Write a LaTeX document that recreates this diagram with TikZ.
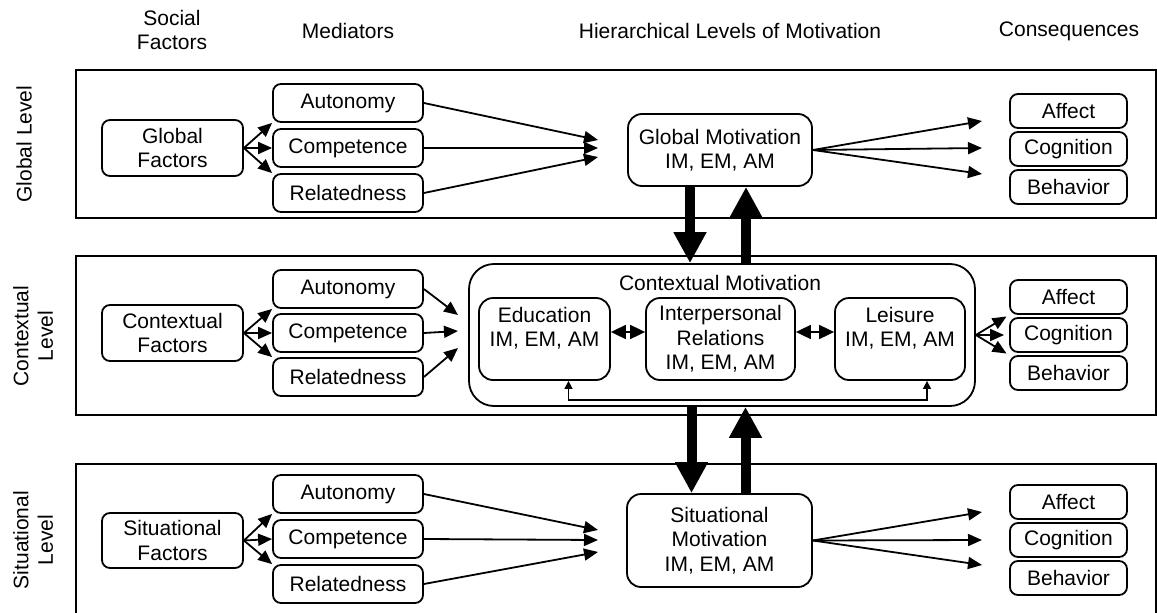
\documentclass[tikz,border=0pt]{standalone}
\usepackage{fontspec}
\setmainfont{Liberation Sans}
\usetikzlibrary{arrows.meta}
\begin{document}
\begin{tikzpicture}[x=1pt,y=-1pt,
  every node/.style={font=\fontsize{21}{24.5}\selectfont},
  panel/.style={draw, line width=1.8pt, inner sep=0pt, minimum width=1080pt},
  box/.style={draw, fill=white, line width=1.8pt, rounded corners=8pt, inner sep=0pt, align=center},
  med/.style={box, minimum width=150pt, minimum height=38pt},
  fac/.style={box, minimum width=141pt, minimum height=56pt},
  cons/.style={box, minimum width=117pt, minimum height=34pt},
  mot/.style={box, rounded corners=14pt},
  ctx/.style={box, rounded corners=14pt, minimum height=82pt},
  head/.style={align=center},
  side/.style={align=center, rotate=90},
  arr/.style={line width=1.8pt, -{Triangle[length=14pt,width=12pt]}},
  dbl/.style={line width=1.8pt, {Triangle[length=15pt,width=14pt]}-{Triangle[length=15pt,width=14pt]}},
  thin/.style={line width=1.4pt, {Triangle[length=8pt,width=8pt]}-{Triangle[length=8pt,width=8pt]}},
  big/.style={line width=10pt, -{Triangle[length=31pt,width=31pt]}}
]
\useasboundingbox (0,0) rectangle (1157,613);

% column headings
\node[head] (hSoc) at (172,30) {Social\\Factors};
\node[head] (hMed) at (348,31) {Mediators};
\node[head] (hMot) at (730,31) {Hierarchical Levels of Motivation};
\node[head] (hCon) at (1069,31) {Consequences};

% level labels
\node[side] (lG) at (24,144) {Global Level};
\node[side] (lC) at (33,336) {Contextual\\Level};
\node[side] (lS) at (33,540) {Situational\\Level};

% level panels
\node[panel, minimum height=148pt] (pG) at (616,144) {};
\node[panel, minimum height=159pt] (pC) at (616,335.5) {};
\node[panel, minimum height=160pt] (pS) at (616,544) {};

% ---------- global level ----------
\node[fac] (gF) at (172.5,148) {Global\\Factors};
\node[med] (gA) at (348,103) {Autonomy};
\node[med] (gC) at (348,148) {Competence};
\node[med] (gR) at (348,193) {Relatedness};
\node[mot, minimum width=184pt, minimum height=72pt] (gM) at (720,150) {Global Motivation\\IM, EM, AM};
\node[cons] (gAf) at (1068.5,111) {Affect};
\node[cons] (gCo) at (1068.5,149) {Cognition};
\node[cons] (gBe) at (1068.5,187) {Behavior};
\coordinate (gin1) at (598,140);
\coordinate (gin2) at (598,148);
\coordinate (gin3) at (598,157);
\coordinate (gout1) at (982,121);
\coordinate (gout2) at (982,148);
\coordinate (gout3) at (982,174);

\draw[arr] (gF.east) -- (gA.south west);
\draw[arr] (gF.east) -- (gC.west);
\draw[arr] (gF.east) -- (gR.north west);
\draw[arr] (gA.east) -- (gin1);
\draw[arr] (gC.east) -- (gin2);
\draw[arr] (gR.east) -- (gin3);
\draw[arr] (gM.east) -- (gout1);
\draw[arr] (gM.east) -- (gout2);
\draw[arr] (gM.east) -- (gout3);

% ---------- contextual level ----------
\node[fac] (cF) at (172.5,333) {Contextual\\Factors};
\node[med] (cA) at (348,289) {Autonomy};
\node[med] (cC) at (348,333) {Competence};
\node[med] (cR) at (348,377) {Relatedness};
\node[box, rounded corners=25pt, minimum width=506pt, minimum height=142pt] (cM) at (722,335) {};
\node (cMt) at (720,283) {Contextual Motivation};
\node[ctx, minimum width=131pt] (cEd) at (544.5,339) {Education\\IM, EM, AM\\~};
\node[ctx, minimum width=149pt] (cIp) at (720.5,339) {Interpersonal\\Relations\\IM, EM, AM};
\node[ctx, minimum width=130pt] (cLe) at (900,339) {Leisure\\IM, EM, AM\\~};
\node[cons] (cAf) at (1068.5,297) {Affect};
\node[cons] (cCo) at (1068.5,335) {Cognition};
\node[cons] (cBe) at (1068.5,373) {Behavior};
\coordinate (cin1) at (458,315);
\coordinate (cin2) at (458,331);
\coordinate (cin3) at (458,348);

\draw[arr] (cF.east) -- (cA.south west);
\draw[arr] (cF.east) -- (cC.west);
\draw[arr] (cF.east) -- (cR.north west);
\draw[arr] (cA.east) -- (cin1);
\draw[arr] (cC.east) -- (cin2);
\draw[arr] (cR.east) -- (cin3);
\draw[dbl] (cEd.east |- 0,332) -- (cIp.west |- 0,332);
\draw[dbl] (cIp.east |- 0,332) -- (cLe.west |- 0,332);
\draw[thin] ([xshift=24pt]cEd.south) -- ++(0,19) -| ([xshift=27pt]cLe.south);
\draw[arr, shorten >=3pt] (cM.east) -- (cAf.south west);
\draw[arr, shorten >=5pt] (cM.east) -- (cCo.west);
\draw[arr, shorten >=3pt] (cM.east) -- (cBe.north west);

% ---------- situational level ----------
\node[fac, minimum height=55pt] (sF) at (172.5,540.5) {Situational\\Factors};
\node[med] (sA) at (348,494) {Autonomy};
\node[med] (sC) at (348,539) {Competence};
\node[med] (sR) at (348,584) {Relatedness};
\node[mot, minimum width=185pt, minimum height=93pt] (sM) at (719.5,540.5) {Situational\\Motivation\\IM, EM, AM};
\node[cons] (sAf) at (1068.5,502) {Affect};
\node[cons] (sCo) at (1068.5,540) {Cognition};
\node[cons] (sBe) at (1068.5,578) {Behavior};
\coordinate (sin1) at (598,530);
\coordinate (sin2) at (598,540);
\coordinate (sin3) at (598,552);
\coordinate (sout1) at (982,512);
\coordinate (sout2) at (982,540);
\coordinate (sout3) at (982,565);

\draw[arr] (sF.east) -- (sA.south west);
\draw[arr] (sF.east) -- (sC.west);
\draw[arr] (sF.east) -- (sR.north west);
\draw[arr] (sA.east) -- (sin1);
\draw[arr] (sC.east) -- (sin2);
\draw[arr] (sR.east) -- (sin3);
\draw[arr] (sM.east) -- (sout1);
\draw[arr] (sM.east) -- (sout2);
\draw[arr] (sM.east) -- (sout3);

% ---------- links between levels ----------
\draw[big] ([xshift=-30pt]gM.south) -- ([xshift=-30pt]gM.south |- cM.north);
\draw[big] ([xshift=26pt]gM.south |- cM.north) -- ([xshift=26pt]gM.south);
\draw[big] ([xshift=-28pt]sM.north |- cM.south) -- ([xshift=-28pt]sM.north);
\draw[big] ([xshift=26pt]sM.north) -- ([xshift=26pt]sM.north |- cM.south);
\end{tikzpicture}
\end{document}
